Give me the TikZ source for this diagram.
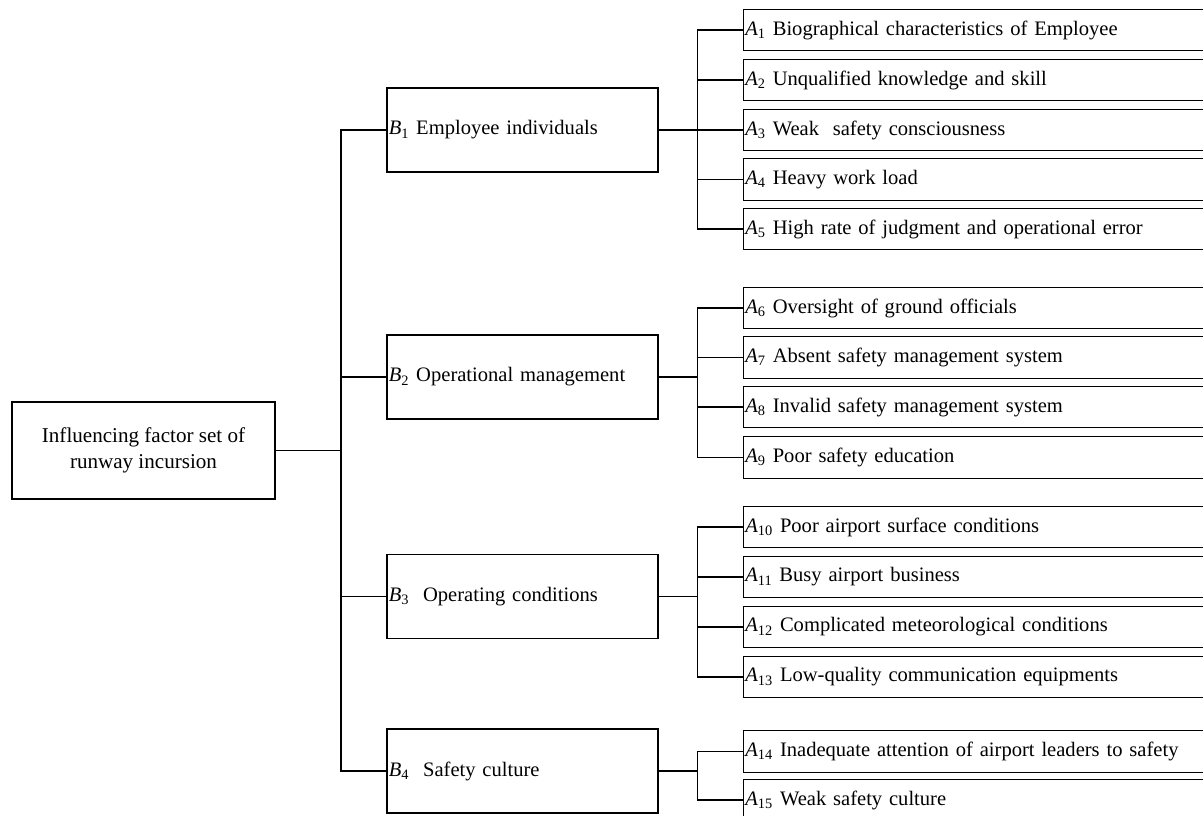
\documentclass[tikz,border=0pt]{standalone}
\usepackage{fontspec}
\setmainfont{Liberation Serif}
\newcommand{\fac}[2]{\textit{#1}\textsubscript{#2}}

\begin{document}
\begin{tikzpicture}[every node/.style={draw, line width=0.6pt, outer sep=0pt, font=\fontsize{11.7pt}{14.4pt}\selectfont},
  rootbox/.style={minimum width=5.26cm, minimum height=1.94cm, align=center, font=\fontsize{12pt}{14.4pt}\selectfont},
  catbox/.style={anchor=west, minimum height=1.68cm, text width=5.35cm, inner xsep=1pt, align=left},
  itembox/.style={anchor=west, minimum height=0.83cm, text width=9.6cm, inner xsep=1pt, align=left},
  line width=0.6pt]
\useasboundingbox (0,0) rectangle (24.06,-16.32);
\clip (0,0) rectangle (24.06,-16.32);

\node[rootbox] (root) at (2.87,-9.01) {Influencing factor set of\\runway incursion};

\node[catbox] (b1) at (7.74,-2.6) {\fac{B}{1} Employee individuals};
\node[catbox] (b2) at (7.74,-7.54) {\fac{B}{2} Operational management};
\node[catbox] (b3) at (7.74,-11.93) {\fac{B}{3}\ \ Operating conditions};
\node[catbox] (b4) at (7.74,-15.42) {\fac{B}{4}\ \ Safety culture};

\node[itembox] (a1) at (14.87,-0.6) {\fac{A}{1} Biographical characteristics of Employee};
\node[itembox] (a2) at (14.87,-1.6) {\fac{A}{2} Unqualified knowledge and skill};
\node[itembox] (a3) at (14.87,-2.6) {\fac{A}{3} Weak\ \ safety consciousness};
\node[itembox] (a4) at (14.87,-3.59) {\fac{A}{4} Heavy work load};
\node[itembox] (a5) at (14.87,-4.58) {\fac{A}{5} High rate of judgment and operational error};

\node[itembox] (a6) at (14.87,-6.16) {\fac{A}{6} Oversight of ground officials};
\node[itembox] (a7) at (14.87,-7.15) {\fac{A}{7} Absent safety management system};
\node[itembox] (a8) at (14.87,-8.14) {\fac{A}{8} Invalid safety management system};
\node[itembox] (a9) at (14.87,-9.15) {\fac{A}{9} Poor safety education};

\node[itembox] (a10) at (14.87,-10.54) {\fac{A}{10} Poor airport surface conditions};
\node[itembox] (a11) at (14.87,-11.54) {\fac{A}{11} Busy airport business};
\node[itembox] (a12) at (14.87,-12.54) {\fac{A}{12} Complicated meteorological conditions};
\node[itembox] (a13) at (14.87,-13.54) {\fac{A}{13} Low-quality communication equipments};

\node[itembox] (a14) at (14.87,-15.03) {\fac{A}{14} Inadequate attention of airport leaders to safety};
\node[itembox] (a15) at (14.87,-16.0) {\fac{A}{15} Weak safety culture};

\coordinate (t0) at (6.82,-9.02);
\coordinate (t1) at (13.95,-2.6);
\coordinate (t2) at (13.95,-7.54);
\coordinate (t3) at (13.95,-11.93);
\coordinate (t4) at (13.95,-15.42);

\draw (root.east) -- (root.east -| t0);
\draw (b1.west) -| (t0) |- (b4.west);
\draw (b2.west) -- (b2.west -| t0);
\draw (b3.west) -- (b3.west -| t0);

\draw (a1.west) -| (t1) |- (a5.west);
\draw (b1.east) -- (a3.west);
\draw (a2.west) -- (a2.west -| t1);
\draw (a4.west) -- (a4.west -| t1);

\draw (a6.west) -| (t2) |- (a9.west);
\draw (b2.east) -- (t2);
\draw (a7.west) -- (a7.west -| t2);
\draw (a8.west) -- (a8.west -| t2);

\draw (a10.west) -| (t3) |- (a13.west);
\draw (b3.east) -- (t3);
\draw (a11.west) -- (a11.west -| t3);
\draw (a12.west) -- (a12.west -| t3);

\draw (a14.west) -| (t4) |- (a15.west);
\draw (b4.east) -- (t4);
\end{tikzpicture}
\end{document}
